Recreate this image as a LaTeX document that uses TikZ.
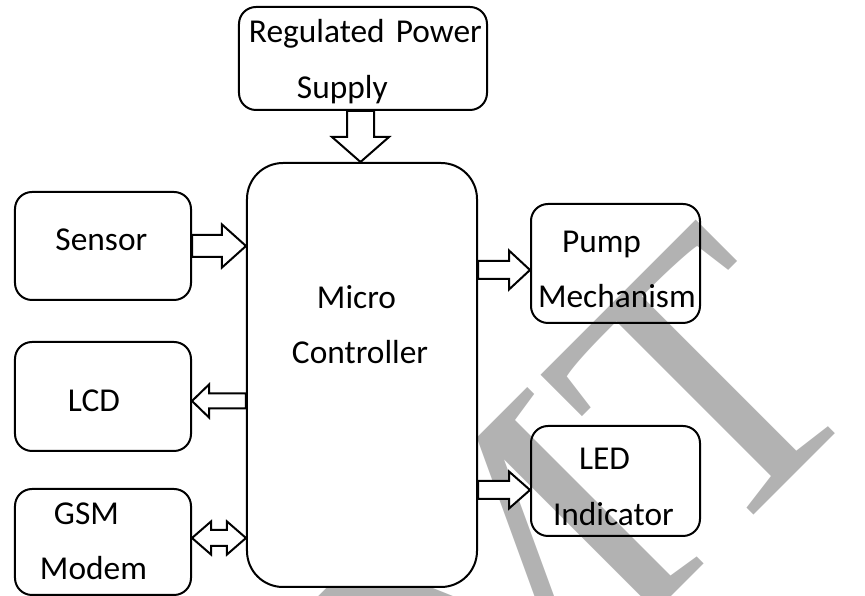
\documentclass[tikz,border=0pt]{standalone}
\usepackage{fontspec}
\setmainfont{Carlito}
\newfontfamily\wmfont{Liberation Serif}
\usetikzlibrary{calc}

\tikzset{
  fat shaft/.store in=\fatshaft,
  fat head/.store in=\fathead,
  fat len/.store in=\fatlen,
  fat shaft=1.8mm, fat head=3.9mm, fat len=4.2mm,
  block/.style={draw, line width=0.4mm, rounded corners=3.4mm, inner sep=0pt,
    align=left, font=\fontsize{19}{31.5}\selectfont},
  fatline/.style={draw, fill=white, line width=0.4mm},
  fatarrow/.style={fatline, to path={
    ($(\tikztotarget)!\fatlen!(\tikztostart)$) coordinate (fatb)
    ($(\tikztostart)!\fatshaft!90:(\tikztotarget)$)
    -- ($(fatb)!\fatshaft!90:(\tikztotarget)$)
    -- ($(fatb)!\fathead!90:(\tikztotarget)$)
    -- (\tikztotarget)
    -- ($(fatb)!\fathead!-90:(\tikztotarget)$)
    -- ($(fatb)!\fatshaft!-90:(\tikztotarget)$)
    -- ($(\tikztostart)!\fatshaft!-90:(\tikztotarget)$)
    -- cycle}},
  fatboth/.style={fatline, to path={
    ($(\tikztotarget)!\fatlen!(\tikztostart)$) coordinate (fatb)
    ($(\tikztostart)!\fatlen!(\tikztotarget)$) coordinate (fata)
    (\tikztostart)
    -- ($(fata)!\fathead!90:(\tikztotarget)$)
    -- ($(fata)!\fatshaft!90:(\tikztotarget)$)
    -- ($(fatb)!\fatshaft!90:(\tikztotarget)$)
    -- ($(fatb)!\fathead!90:(\tikztotarget)$)
    -- (\tikztotarget)
    -- ($(fatb)!\fathead!-90:(\tikztotarget)$)
    -- ($(fatb)!\fatshaft!-90:(\tikztotarget)$)
    -- ($(fata)!\fatshaft!-90:(\tikztotarget)$)
    -- ($(fata)!\fathead!-90:(\tikztotarget)$)
    -- cycle}},
  wmark/.style={text=black!30, inner sep=0pt, font=\wmfont\fontsize{216.8}{220}\selectfont},
}

\begin{document}
\begin{tikzpicture}[x=0.2mm, y=-0.2mm]
    \useasboundingbox (0,0) rectangle (865,596);
    % Watermark behind everything
    \node at (472.6,795.8) [wmark, rotate=45, anchor=base west] (wm) {MT};

    % Controller in the middle
    \node at (362,375) [block, fill=white, rounded corners=7.2mm, text width=46mm, minimum height=84.8mm, text height=4.6mm, text depth=31.3mm] (mc) {\hspace*{14mm}Micro\\\hspace*{9mm}Controller};

    % Power supply on top
    \node at (363,58.5) [block, text width=49.6mm, minimum height=20.6mm, text height=4.6mm, text depth=10.9mm] (rps) {\hspace*{2mm}Regulated Power\\\hspace*{11.6mm}Supply};

    % Left column
    \node at (103,246) [block, text width=35.2mm, minimum height=21.6mm, text height=4.6mm, text depth=2.7mm] (sensor) {\hspace*{8.1mm}Sensor};
    \node at (103,396.5) [block, text width=35.2mm, minimum height=21.8mm, text height=6.2mm, text depth=0mm] (lcd) {\hspace*{10.6mm}LCD};
    \node at (103,542) [block, text width=35.2mm, minimum height=21.2mm, text height=4.6mm, text depth=11.6mm] (gsm) {\hspace*{7.8mm}GSM\\\hspace*{5mm}Modem};

    % Right column
    \node at (615.5,263.5) [block, text width=33.8mm, minimum height=23.8mm, text height=5.4mm, text depth=9.9mm] (pump) {\hspace*{6.2mm}Pump\\\hspace*{1.4mm}Mechanism};
    \node at (615.5,481) [block, text width=33.8mm, minimum height=22mm, text height=5.5mm, text depth=9.9mm] (led) {\hspace*{9.6mm}LED\\\hspace*{4.4mm}Indicator};

    % Block arrows
    \coordinate (pwrout) at ([xshift=-0.5mm]rps.south);
    \draw[fatarrow, fat shaft=2.7mm, fat head=5.7mm, fat len=5mm] (pwrout) to (pwrout |- mc.north);
    \draw[fatarrow, fat shaft=2.2mm, fat head=4.3mm, fat len=4.8mm] (sensor.east) to (sensor.east -| mc.west);
    \coordinate (lcdin) at ([yshift=-0.9mm]lcd.east);
    \draw[fatarrow, fat shaft=1.5mm, fat head=3.3mm, fat len=3.4mm] (lcdin -| mc.west) to (lcdin);
    \coordinate (gsmio) at ([yshift=0.8mm]gsm.east);
    \draw[fatboth, fat shaft=1.6mm, fat head=3.3mm, fat len=3.8mm] (gsmio) to (gsmio -| mc.west);
    \coordinate (pumpin) at ([yshift=-1.3mm]pump.west);
    \draw[fatarrow] (pumpin -| mc.east) to (pumpin);
    \coordinate (ledin) at ([yshift=-1.8mm]led.west);
    \draw[fatarrow, fat head=3.7mm] (ledin -| mc.east) to (ledin);
\end{tikzpicture}
\end{document}
